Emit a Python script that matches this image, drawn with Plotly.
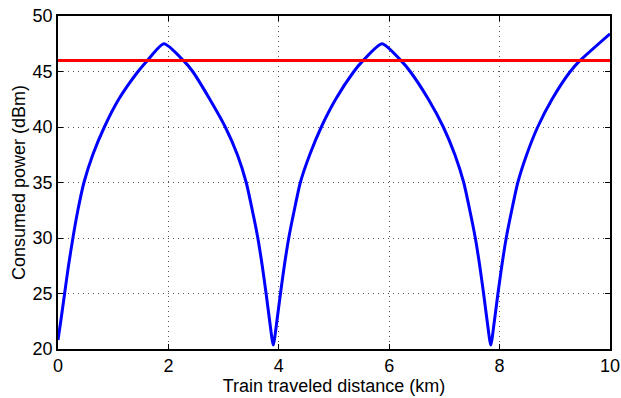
import plotly.graph_objects as go

# Train traveled distance (km) and consumed power (dBm)
distance_km = [
    # rising from first station
    0.00, 0.05, 0.12, 0.19, 0.27, 0.36, 0.47, 0.63, 0.84, 1.10, 1.45, 1.62, 1.92,
    # falling toward second station
    2.27, 2.44, 2.75, 3.03, 3.25, 3.41, 3.52, 3.62, 3.70, 3.77, 3.835, 3.90,
    # rising from second station
    3.965, 4.03, 4.10, 4.18, 4.28, 4.39, 4.56, 4.77, 5.03, 5.36, 5.53, 5.87,
    # falling toward third station
    6.21, 6.38, 6.71, 6.98, 7.19, 7.35, 7.46, 7.56, 7.64, 7.71, 7.775, 7.84,
    # rising from third station
    7.905, 7.97, 8.04, 8.12, 8.22, 8.33, 8.49, 8.69, 8.95, 9.28, 9.46, 10.0,
]
power_dbm = [
    20.8, 22.5, 25.0, 27.5, 30.0, 32.5, 35.0, 37.5, 40.0, 42.5, 45.0, 46.0, 47.5,
    46.0, 45.0, 42.5, 40.0, 37.5, 35.0, 32.5, 30.0, 27.5, 25.0, 22.5, 20.35,
    22.5, 25.0, 27.5, 30.0, 32.5, 35.0, 37.5, 40.0, 42.5, 45.0, 46.0, 47.5,
    46.0, 45.0, 42.5, 40.0, 37.5, 35.0, 32.5, 30.0, 27.5, 25.0, 22.5, 20.35,
    22.5, 25.0, 27.5, 30.0, 32.5, 35.0, 37.5, 40.0, 42.5, 45.0, 46.0, 48.4,
]

threshold_x = [0, 10]
threshold_dbm = [46, 46]

x_ticks = [0, 2, 4, 6, 8, 10]
y_ticks = [20, 25, 30, 35, 40, 45, 50]

FONT = "Liberation Sans, Arial, Helvetica, sans-serif"

fig = go.Figure()
fig.add_trace(go.Scatter(x=distance_km, y=power_dbm, mode="lines",
                         line=dict(color="#0000ff", width=3, shape="spline", smoothing=0.6),
                         showlegend=False, hoverinfo="skip"))
fig.add_trace(go.Scatter(x=threshold_x, y=threshold_dbm, mode="lines",
                         line=dict(color="#ff0000", width=3),
                         showlegend=False, hoverinfo="skip"))

axis_common = dict(
    showline=True, linecolor="black", linewidth=1.5, mirror="ticks",
    ticks="inside", ticklen=5, tickcolor="black", tickwidth=1,
    showgrid=True, gridcolor="#555555", griddash="1px,4px", gridwidth=1,
    zeroline=False, automargin=False,
    tickfont=dict(family=FONT, size=18, color="black"),
)

fig.update_xaxes(range=[0, 10], tickvals=x_ticks, ticktext=[str(v) for v in x_ticks],
                 title=dict(text="Train traveled distance (km)", standoff=2,
                            font=dict(family=FONT, size=18, color="black")),
                 **axis_common)
fig.update_yaxes(range=[20, 50], tickvals=y_ticks, ticktext=[str(v) for v in y_ticks],
                 title=dict(text="Consumed power (dBm)", standoff=2,
                            font=dict(family=FONT, size=18, color="black")),
                 **axis_common)

fig.update_layout(
    width=621, height=398,
    margin=dict(l=58, r=11, t=16, b=49),
    paper_bgcolor="white", plot_bgcolor="white",
)

fig.write_html("out.html", config={"displayModeBar": False},
               post_script="document.body.style.margin='0';document.body.style.padding='0';")
